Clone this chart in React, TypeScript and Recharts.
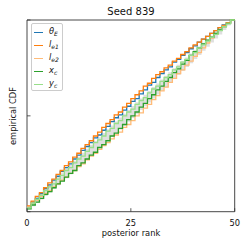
import React from "react";
import { ComposedChart, Line, Area, XAxis, YAxis, ReferenceArea } from "recharts";

const ranks = Array.from({ length: 51 }, (_, i) => i);

const thetaE = [0.025,0.050,0.070,0.095,0.120,0.140,0.165,0.185,0.210,0.230,0.250,0.275,0.295,0.320,0.340,0.360,0.385,0.400,0.425,0.445,0.470,0.490,0.505,0.530,0.550,0.575,0.590,0.615,0.635,0.660,0.675,0.700,0.720,0.740,0.755,0.780,0.795,0.815,0.830,0.850,0.865,0.885,0.900,0.915,0.930,0.945,0.960,0.975,0.986,1.000];
const le1 = [0.030,0.055,0.080,0.100,0.125,0.150,0.170,0.195,0.215,0.240,0.260,0.285,0.305,0.330,0.350,0.370,0.395,0.415,0.440,0.460,0.480,0.505,0.520,0.545,0.565,0.590,0.610,0.630,0.655,0.670,0.695,0.715,0.730,0.750,0.765,0.785,0.800,0.820,0.835,0.855,0.870,0.885,0.900,0.915,0.930,0.945,0.960,0.972,0.986,1.000];
const le2 = [0.025,0.045,0.060,0.080,0.095,0.110,0.130,0.145,0.165,0.180,0.200,0.215,0.235,0.250,0.270,0.290,0.305,0.325,0.345,0.360,0.380,0.400,0.415,0.440,0.455,0.475,0.500,0.515,0.540,0.560,0.585,0.605,0.630,0.650,0.675,0.695,0.720,0.740,0.765,0.785,0.810,0.830,0.855,0.880,0.905,0.925,0.948,0.966,0.984,1.000];
const xc = [0.015,0.035,0.050,0.070,0.090,0.105,0.125,0.145,0.160,0.180,0.200,0.215,0.240,0.255,0.275,0.295,0.310,0.335,0.350,0.370,0.395,0.410,0.435,0.455,0.480,0.500,0.520,0.545,0.565,0.590,0.610,0.635,0.655,0.680,0.700,0.725,0.745,0.770,0.790,0.815,0.835,0.855,0.875,0.895,0.910,0.930,0.948,0.965,0.982,1.000];
const yc = [0.020,0.045,0.065,0.085,0.110,0.130,0.145,0.170,0.190,0.215,0.230,0.255,0.275,0.290,0.315,0.335,0.360,0.375,0.395,0.420,0.435,0.460,0.475,0.500,0.520,0.535,0.560,0.580,0.595,0.620,0.640,0.655,0.680,0.700,0.715,0.740,0.755,0.780,0.795,0.815,0.830,0.855,0.870,0.890,0.910,0.925,0.945,0.965,0.980,1.000];
const bandLow = [0.011,0.028,0.045,0.063,0.082,0.100,0.119,0.138,0.156,0.175,0.195,0.214,0.233,0.252,0.272,0.291,0.311,0.331,0.350,0.370,0.390,0.410,0.429,0.449,0.469,0.489,0.509,0.530,0.550,0.570,0.590,0.611,0.631,0.651,0.672,0.692,0.713,0.734,0.755,0.775,0.796,0.818,0.839,0.860,0.882,0.903,0.925,0.948,0.971,1.000];
const bandHigh = [0.029,0.052,0.075,0.097,0.118,0.140,0.161,0.182,0.204,0.225,0.245,0.266,0.287,0.308,0.328,0.349,0.369,0.389,0.410,0.430,0.450,0.470,0.491,0.511,0.531,0.551,0.571,0.590,0.610,0.630,0.650,0.669,0.689,0.709,0.728,0.748,0.767,0.786,0.805,0.825,0.844,0.862,0.881,0.900,0.918,0.937,0.955,0.972,0.989,1.000];

const xTicks = [0, 25, 50];
const yTicks = [0, 0.5, 1];

const sub = (t: string) => <sub style={{ fontSize: 6, fontStyle: "italic", verticalAlign: "-2px" }}>{t}</sub>;

const series = [
  { key: "thetaE", values: thetaE, color: "#1f77b4", label: <><i>θ</i>{sub("E")}</> },
  { key: "le1", values: le1, color: "#ff7f0e", label: <><i>l</i>{sub("e1")}</> },
  { key: "le2", values: le2, color: "#ffbb78", label: <><i>l</i>{sub("e2")}</> },
  { key: "xc", values: xc, color: "#2ca02c", label: <><i>x</i>{sub("c")}</> },
  { key: "yc", values: yc, color: "#98df8a", label: <><i>y</i>{sub("c")}</> },
];

const data = ranks.map((r) => {
  const idx = Math.min(r, 49);
  const row: any = { x: r, band: [bandLow[idx], bandHigh[idx]] };
  series.forEach((s) => (row[s.key] = s.values[idx]));
  return row;
});

const FONT = "'DejaVu Sans', sans-serif";
const PLOT_BOTTOM = 211.7;
const PLOT_LEFT = 27;

const XTick = (props: any) => {
  const { x, payload } = props;
  const y = PLOT_BOTTOM;
  return (
    <g>
      <line x1={x} x2={x} y1={y} y2={y - 3.5} stroke="#333" strokeWidth={0.8} />
      <text x={x} y={y + 14} textAnchor="middle" fontSize={8.3} fontFamily={FONT} fill="#111">
        {payload.value}
      </text>
    </g>
  );
};

const YTick = (props: any) => {
  const { y } = props;
  const x = PLOT_LEFT;
  return <line x1={x} x2={x + 3.5} y1={y} y2={y} stroke="#333" strokeWidth={0.8} />;
};

export default function App() {
  return (
    <div style={{ position: "absolute", left: 0, top: 0, width: 249, height: 249, background: "#fff" }}>
      <ComposedChart width={249} height={249} data={data} margin={{ top: 20, left: 7, right: 14.3, bottom: 17.3 }}>
        <XAxis dataKey="x" type="number" domain={[0, 50]} ticks={xTicks} height={20} tickSize={0} tickMargin={0} axisLine={false} tick={<XTick />} interval={0} />
        <YAxis type="number" domain={[0, 1]} ticks={yTicks} width={20} tickSize={0} tickMargin={0} axisLine={false} tick={<YTick />} interval={0} />
        {series.map((s) => (
          <Line key={s.key} dataKey={s.key} type="stepAfter" stroke={s.color} strokeWidth={1.3} dot={false} isAnimationActive={false} />
        ))}
        <Area dataKey="band" type="stepAfter" fill="#808080" fillOpacity={0.25} stroke="none" isAnimationActive={false} />
        <ReferenceArea x1={0} x2={50} y1={0} y2={1} fill="none" stroke="#333" strokeWidth={0.9} ifOverflow="visible" />
      </ComposedChart>
      <div style={{ position: "absolute", left: 0, width: 262, top: 6, textAlign: "center", fontFamily: FONT, fontSize: 10, color: "#111", lineHeight: "12px" }}>Seed 839</div>
      <div style={{ position: "absolute", left: 0, width: 262, top: 228, textAlign: "center", fontFamily: FONT, fontSize: 8.3, color: "#111", lineHeight: "10px" }}>posterior rank</div>
      <div style={{ position: "absolute", left: 12.5, top: 116, transform: "translate(-50%, -50%) rotate(-90deg)", whiteSpace: "nowrap", fontFamily: FONT, fontSize: 8.3, color: "#111", lineHeight: "10px" }}>empirical CDF</div>
      <div style={{ position: "absolute", left: 31, top: 23, width: 32, height: 68, border: "1px solid #ccc", borderRadius: 2, background: "rgba(255,255,255,0.8)", boxSizing: "border-box" }}>
        {series.map((s, i) => (
          <div key={s.key} style={{ position: "absolute", left: 2, top: 3 + i * 13, height: 11, display: "flex", alignItems: "center", fontFamily: FONT, fontSize: 8.3, color: "#111", whiteSpace: "nowrap" }}>
            <div style={{ width: 9, height: 1.3, background: s.color, marginRight: 6 }} />
            <span style={{ lineHeight: "10px" }}>{s.label}</span>
          </div>
        ))}
      </div>
    </div>
  );
}
